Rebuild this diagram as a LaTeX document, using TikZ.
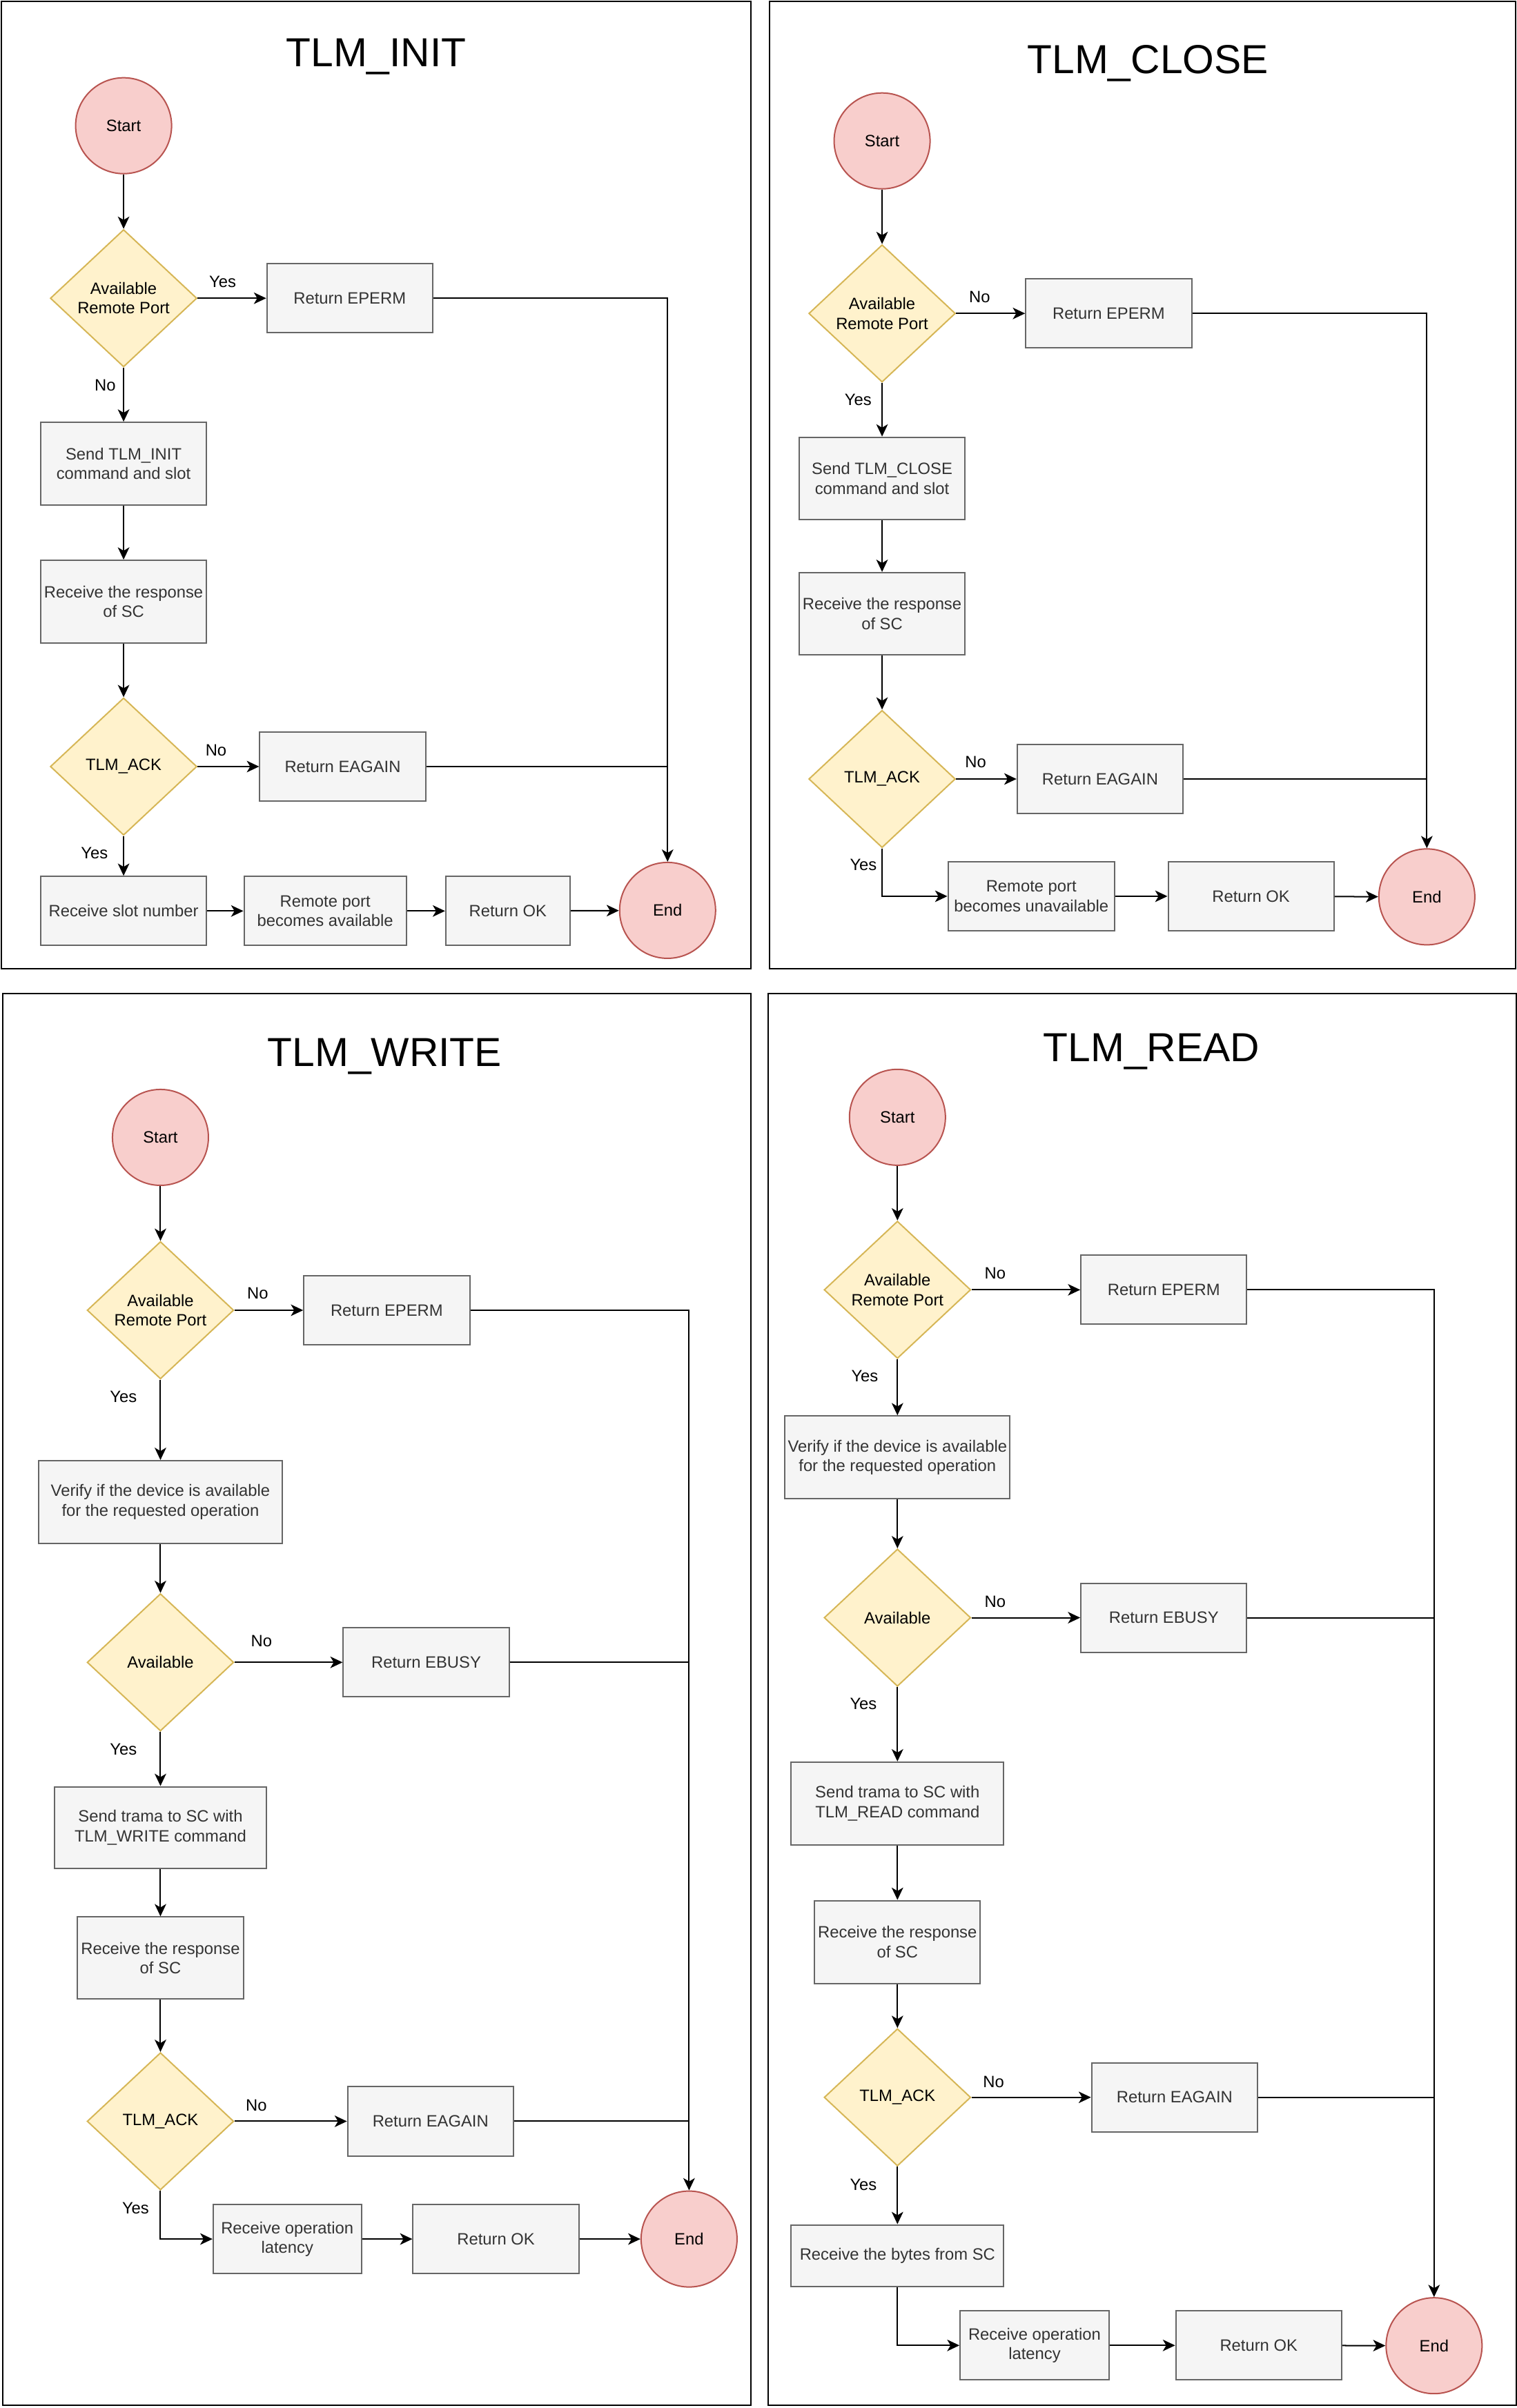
\documentclass[tikz,border=0pt]{standalone}
\usepackage{fontspec}
\setmainfont{Liberation Sans}
\usetikzlibrary{shapes.geometric, arrows.meta}

\definecolor{termfill}{HTML}{F8CECC}
\definecolor{termdraw}{HTML}{B85450}
\definecolor{decfill}{HTML}{FFF2CC}
\definecolor{decdraw}{HTML}{D6B656}
\definecolor{procfill}{HTML}{F5F5F5}
\definecolor{procdraw}{HTML}{666666}
\definecolor{proctext}{HTML}{333333}

\begin{document}
\begin{tikzpicture}[x = 1pt, y = -1pt, > = {Stealth[length = 8pt, width = 7.5pt, inset = 2.2pt]},
	every node/.style = {font = \fontsize{10.7}{12.8}\selectfont, inner sep = 0pt},
	term/.style = {circle, draw = termdraw, fill = termfill, line width = 0.9pt, minimum size = 62.5pt},
	decision/.style = {diamond, draw = decdraw, fill = decfill, line width = 0.9pt, minimum width = 95.5pt, minimum height = 89.5pt, align = center},
	process/.style = {rectangle, draw = procdraw, fill = procfill, line width = 0.9pt, text = proctext, minimum width = 108pt, minimum height = 45pt, align = center},
	flow/.style = {->, line width = 0.9pt},
	title/.style = {anchor = base, font = \fontsize{26.4}{30}\selectfont},
	frame/.style = {draw, line width = 0.9pt}]

	% Definitions
	
	\def\colI{80.5}
	\def\colC{574.5}
	\def\colW{104.5}
	\def\colR{584.5}
	
	\useasboundingbox (0, 0) rectangle (988, 1568.8);
	
	% Panel frames
	
	\draw [frame] (1, 1) rectangle (489, 631);
	\draw [frame] (501.4, 0.8) rectangle (987.1, 631);
	\draw [frame] (1.6, 647.2) rectangle (489, 1567);
	\draw [frame] (500.1, 647.2) rectangle (987.4, 1567);
	
	% TLM_INIT
	
	\node [title] (Ititle) at (245, 43.5) {TLM\_INIT};
	\node [term] (Istart) at (\colI, 81.9) {Start};
	\node [decision] (Iport) at (\colI, 194.3) {Available\\Remote Port};
	\node [process] (Ieperm) at (227.8, 194.3) {Return EPERM};
	\node [process, minimum height = 53.7pt] (Isend) at (\colI, 302) {Send TLM\_INIT\\command and slot};
	\node [process, minimum height = 53.7pt] (Irecv) at (\colI, 391.9) {Receive the response\\of SC};
	\node [decision] (Iack) at (\colI, 499.4) {TLM\_ACK};
	\node [process] (Ieagain) at (223.2, 499.4) {Return EAGAIN};
	\node [process] (Islot) at (\colI, 593.5) {Receive slot number};
	\node [process, minimum width = 105.7pt] (Iup) at (211.8, 593.5) {Remote port\\becomes available};
	\node [process, minimum width = 81pt] (Iok) at (330.8, 593.5) {Return OK};
	\node [term] (Iend) at (434.8, 593.1) {End};
	
	\node (Iyes1) at (145, 183.7) {Yes};
	\node (Ino1) at (68.5, 250.8) {No};
	\node (Ino2) at (140.7, 488.6) {No};
	\node (Iyes2) at (61.5, 556) {Yes};
	
	\draw [flow] (Istart) -- (Iport);
	\draw [flow] (Iport) -- (Ieperm);
	\draw [flow] (Iport) -- (Isend);
	\draw [flow] (Isend) -- (Irecv);
	\draw [flow] (Irecv) -- (Iack);
	\draw [flow] (Iack) -- (Ieagain);
	\draw [flow] (Iack) -- (Islot);
	\draw [flow] (Islot) -- (Iup);
	\draw [flow] (Iup) -- (Iok);
	\draw [flow] (Iok) -- (Iend);
	\draw [flow] (Ieperm) -| (Iend);
	\draw [line width = 0.9pt] (Ieagain) -- (Ieagain -| Iend);
	
	% TLM_CLOSE
	
	\node [title] (Ctitle) at (747.6, 48) {TLM\_CLOSE};
	\node [term] (Cstart) at (\colC, 91.8) {Start};
	\node [decision] (Cport) at (\colC, 204.2) {Available\\Remote Port};
	\node [process] (Ceperm) at (722.1, 204.2) {Return EPERM};
	\node [process, minimum height = 53.7pt] (Csend) at (\colC, 311.7) {Send TLM\_CLOSE\\command and slot};
	\node [process, minimum height = 53.7pt] (Crecv) at (\colC, 399.9) {Receive the response\\of SC};
	\node [decision] (Cack) at (\colC, 507.5) {TLM\_ACK};
	\node [process] (Ceagain) at (716.5, 507.5) {Return EAGAIN};
	\node [process, minimum width = 108.5pt] (Cdown) at (671.7, 583.9) {Remote port\\becomes unavailable};
	\node [process] (Cok) at (814.8, 583.9) {Return OK};
	\node [term] (Cend) at (929.3, 584.3) {End};
	
	\node (Cno1) at (638, 193.4) {No};
	\node (Cyes1) at (558.9, 260.5) {Yes};
	\node (Cno2) at (635.4, 496.6) {No};
	\node (Cyes2) at (562.3, 563.2) {Yes};
	
	\draw [flow] (Cstart) -- (Cport);
	\draw [flow] (Cport) -- (Ceperm);
	\draw [flow] (Cport) -- (Csend);
	\draw [flow] (Csend) -- (Crecv);
	\draw [flow] (Crecv) -- (Cack);
	\draw [flow] (Cack) -- (Ceagain);
	\draw [flow] (Cack) |- (Cdown);
	\draw [flow] (Cdown) -- (Cok);
	\draw [flow] (Cok) -- (Cend);
	\draw [flow] (Ceperm) -| (Cend);
	\draw [line width = 0.9pt] (Ceagain) -- (Ceagain -| Cend);
	
	% TLM_WRITE
	
	\node [title] (Wtitle) at (250.5, 694.5) {TLM\_WRITE};
	\node [term] (Wstart) at (\colW, 741) {Start};
	\node [decision] (Wport) at (\colW, 853.6) {Available\\Remote Port};
	\node [process] (Weperm) at (251.9, 853.6) {Return EPERM};
	\node [process, minimum width = 158.7pt, minimum height = 54pt] (Wcheck) at (\colW, 978.6) {Verify if the device is available\\for the requested operation};
	\node [decision] (Wfree) at (\colW, 1083) {Available};
	\node [process] (Webusy) at (277.6, 1083) {Return EBUSY};
	\node [process, minimum width = 138.2pt, minimum height = 53.4pt] (Wsend) at (\colW, 1190.7) {Send trama to SC with\\TLM\_WRITE command};
	\node [process, minimum height = 53.4pt] (Wrecv) at (\colW, 1275.6) {Receive the response\\of SC};
	\node [decision] (Wack) at (\colW, 1382) {TLM\_ACK};
	\node [process] (Weagain) at (280.4, 1382) {Return EAGAIN};
	\node [process, minimum width = 96.5pt] (Wlat) at (187.1, 1458.7) {Receive operation\\latency};
	\node [process] (Wok) at (323, 1458.7) {Return OK};
	\node [term] (Wend) at (448.8, 1458.7) {End};
	
	\node (Wno1) at (167.8, 842.4) {No};
	\node (Wyes1) at (80.4, 910.1) {Yes};
	\node (Wno2) at (170.3, 1069.1) {No};
	\node (Wyes2) at (80.4, 1139.7) {Yes};
	\node (Wno3) at (166.9, 1371.7) {No};
	\node (Wyes3) at (88.3, 1438.8) {Yes};
	
	\draw [flow] (Wstart) -- (Wport);
	\draw [flow] (Wport) -- (Weperm);
	\draw [flow] (Wport) -- (Wcheck);
	\draw [flow] (Wcheck) -- (Wfree);
	\draw [flow] (Wfree) -- (Webusy);
	\draw [flow] (Wfree) -- (Wsend);
	\draw [flow] (Wsend) -- (Wrecv);
	\draw [flow] (Wrecv) -- (Wack);
	\draw [flow] (Wack) -- (Weagain);
	\draw [flow] (Wack) |- (Wlat);
	\draw [flow] (Wlat) -- (Wok);
	\draw [flow] (Wok) -- (Wend);
	\draw [flow] (Weperm) -| (Wend);
	\draw [line width = 0.9pt] (Webusy) -- (Webusy -| Wend);
	\draw [line width = 0.9pt] (Weagain) -- (Weagain -| Wend);
	
	% TLM_READ
	
	\node [title] (Rtitle) at (750, 691.7) {TLM\_READ};
	\node [term] (Rstart) at (\colR, 727.9) {Start};
	\node [decision] (Rport) at (\colR, 840.3) {Available\\Remote Port};
	\node [process] (Reperm) at (758, 840.3) {Return EPERM};
	\node [process, minimum width = 146.6pt, minimum height = 54pt] (Rcheck) at (\colR, 949.5) {Verify if the device is available\\for the requested operation};
	\node [decision] (Rfree) at (\colR, 1053.9) {Available};
	\node [process] (Rebusy) at (758, 1053.9) {Return EBUSY};
	\node [process, minimum width = 138.4pt, minimum height = 54pt] (Rsend) at (\colR, 1175) {Send trama to SC with\\TLM\_READ command};
	\node [process, minimum height = 54pt] (Rrecv) at (\colR, 1265.2) {Receive the response\\of SC};
	\node [decision] (Rack) at (\colR, 1366.4) {TLM\_ACK};
	\node [process] (Reagain) at (765, 1366.4) {Return EAGAIN};
	\node [process, minimum width = 138.5pt, minimum height = 40.3pt] (Rbytes) at (\colR, 1469.6) {Receive the bytes from SC};
	\node [process, minimum width = 96.9pt] (Rlat) at (673.8, 1528) {Receive operation\\latency};
	\node [process] (Rok) at (819.8, 1528) {Return OK};
	\node [term] (Rend) at (934, 1528.2) {End};
	
	\node (Rno1) at (648.1, 829.4) {No};
	\node (Ryes1) at (563.2, 896.4) {Yes};
	\node (Rno2) at (648.1, 1043.6) {No};
	\node (Ryes2) at (562.3, 1110) {Yes};
	\node (Rno3) at (647.1, 1356.3) {No};
	\node (Ryes3) at (562.3, 1423.3) {Yes};
	
	\draw [flow] (Rstart) -- (Rport);
	\draw [flow] (Rport) -- (Reperm);
	\draw [flow] (Rport) -- (Rcheck);
	\draw [flow] (Rcheck) -- (Rfree);
	\draw [flow] (Rfree) -- (Rebusy);
	\draw [flow] (Rfree) -- (Rsend);
	\draw [flow] (Rsend) -- (Rrecv);
	\draw [flow] (Rrecv) -- (Rack);
	\draw [flow] (Rack) -- (Reagain);
	\draw [flow] (Rack) -- (Rbytes);
	\draw [flow] (Rbytes) |- (Rlat);
	\draw [flow] (Rlat) -- (Rok);
	\draw [flow] (Rok) -- (Rend);
	\draw [flow] (Reperm) -| (Rend);
	\draw [line width = 0.9pt] (Rebusy) -- (Rebusy -| Rend);
	\draw [line width = 0.9pt] (Reagain) -- (Reagain -| Rend);

\end{tikzpicture}
\end{document}
